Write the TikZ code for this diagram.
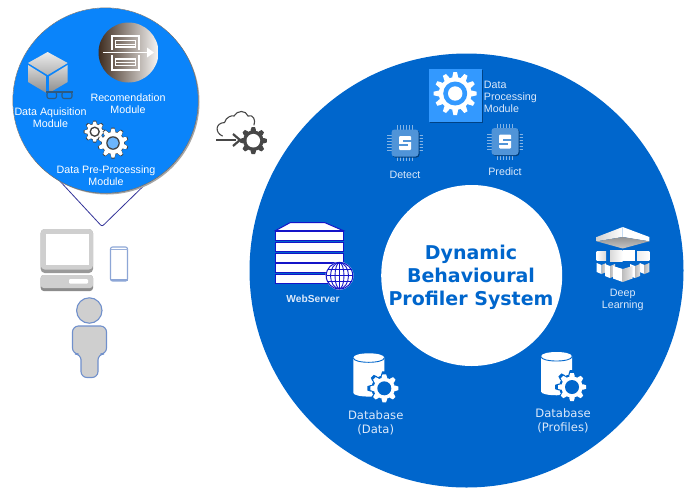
\documentclass[tikz,border=0pt]{standalone}
\usepackage{fontspec}
\setmainfont{Liberation Sans}
\newfontfamily\dbfont{DejaVu Sans}
\definecolor{mainblue}{HTML}{0066CC}
\definecolor{topblue}{HTML}{0A84FA}
\definecolor{sqblue}{HTML}{3399FF}
\definecolor{chipblue}{HTML}{5094D8}
\definecolor{lbl}{HTML}{DCE9FA}
\definecolor{navy}{HTML}{1414C8}
\definecolor{pgray}{HTML}{CFCFCF}
\definecolor{pblue}{HTML}{7090CC}
\definecolor{glassc}{HTML}{2E5A80}
\definecolor{browna}{HTML}{3F2D20}
\definecolor{brownb}{HTML}{A89A8C}
\tikzset{
  lab/.style={text=white,align=center,inner sep=0pt,font=\fontsize{10.7}{12}\selectfont},
  dblab/.style={text=lbl,align=center,inner sep=0pt,font=\dbfont\fontsize{11.6}{14}\selectfont},
  titlelab/.style={text=mainblue,align=center,inner sep=0pt,font=\dbfont\bfseries\fontsize{19}{22.8}\selectfont},
  slat/.style={draw=navy,fill=white,line width=1pt},
}
% x, y, R, teeth, colour, hole colour, hole radius
\newcommand\gearicon[7]{%
  \begin{scope}[shift={(#1,#2)}]
    \fill[#5] (0,0) circle[radius=0.76*#3];
    \foreach \a in {1,...,#4}{
      \fill[#5,rotate=\a*360/#4] (-1.7*#3/#4,0) -- (-1.55*#3/#4,0.8*#3) -- (-1.0*#3/#4,#3) -- (1.0*#3/#4,#3) -- (1.55*#3/#4,0.8*#3) -- (1.7*#3/#4,0) -- cycle;
    }
    \fill[#6] (0,0) circle[radius=#7];
  \end{scope}}
\newcommand\chipicon[2]{%
  \begin{scope}[shift={(#1,#2)}]
    \foreach \d in {-8,-5,-2,1,4,7}{
      \draw[chipblue!70!white,line width=.7pt] (\d+.5,-18) -- (\d+.5,18);
      \draw[chipblue!70!white,line width=.7pt] (-18,\d+.5) -- (18,\d+.5);
    }
    \fill[black!40!mainblue,rounded corners=3pt] (-12.5,-12.5) rectangle (14.5,14.5);
    \fill[chipblue,rounded corners=3pt] (-13.5,-13.5) rectangle (13.5,13.5);
    \fill[white,rounded corners=1pt] (-6,-7) rectangle (6,7);
    \fill[chipblue] (-2.5,-3) rectangle (6.5,-1);
    \fill[chipblue] (-6.5,1) rectangle (2.5,3);
  \end{scope}}
\newcommand\dbicon[2]{%
  \begin{scope}[shift={(#1,#2)}]
    \fill[white] (0,4.5) .. controls (0,-1.5) and (31,-1.5) .. (31,4.5) -- (31,39.5) .. controls (31,44.5) and (0,44.5) .. (0,39.5) -- cycle;
    \draw[mainblue,line width=.9pt] (0,4.5) .. controls (0,10.5) and (31,10.5) .. (31,4.5);
    \gearicon{31}{35}{17}{8}{mainblue}{mainblue}{1}
    \gearicon{31}{35}{14}{8}{white}{mainblue}{7}
  \end{scope}}
\begin{document}
\begin{tikzpicture}[x=1pt,y=-1pt]
\useasboundingbox (0,0) rectangle (690,491);
\fill[white] (0,0) rectangle (690,491);

% ---- main ring
\fill[mainblue] (466.5,270.5) circle[radius=217];
\fill[white] (471.7,275.5) circle[radius=90.5];

% ---- callout
\draw[draw=blue!50!black!80!white,line width=.8pt,rounded corners=2pt] (45,165) -- (102,226.5) -- (165,165);
\fill[gray!70] (107,102) circle[radius=92.5];
\fill[topblue] (105.5,100.5) circle[radius=92.5];
\draw[black!60,line width=.4pt] (105.5,100.5) circle[radius=92.7];

% cube
\shade[top color=white!85!gray,bottom color=gray!60] (47.6,52) -- (67.7,63) -- (47.6,75) -- (28,63) -- cycle;
\shade[top color=gray!30,bottom color=gray!90] (28,65) -- (46.5,76.5) -- (46.5,93) -- (28,82) -- cycle;
\shade[top color=gray!30,bottom color=gray!90] (67.7,65) -- (49,76.5) -- (49,93) -- (67.7,82) -- cycle;
% glasses
\draw[glassc,line width=1.1pt,rounded corners=2pt] (47,92) rectangle (56.5,98.5) (62,92) rectangle (72,98.5);
\draw[glassc,line width=1.1pt] (46,92) -- (73,92);
% recommendation disc
\shade[left color=browna,middle color=brownb,right color=white!92!brownb] (128.5,52.5) circle[radius=30];
\draw[white,line width=1.6pt] (112,50) -- (112,36) -- (139,36) -- (139,50);
\draw[white,line width=1.6pt] (112,55) -- (112,70) -- (139,70) -- (139,55);
\draw[white,line width=1.3pt] (115.5,40.5) rectangle (135.5,47);
\draw[white,line width=1.3pt] (115.5,59) rectangle (135.5,65.5);
\draw[white,line width=1pt] (115.5,44) -- (135.5,44) (115.5,62) -- (135.5,62);
\draw[white,line width=1.8pt] (103,52.5) -- (149,52.5);
\fill[white] (154,52.5) -- (147,47.5) -- (147,57.5) -- cycle;
% gears
\gearicon{94.7}{131.7}{11}{8}{black!75}{black!75}{1}
\gearicon{94.7}{131.7}{10}{8}{white}{black!75}{5.2}
\fill[white] (94.7,131.7) circle[radius=3.6];
\gearicon{113}{143}{15.5}{10}{black!75}{black!75}{1}
\gearicon{113}{143}{14.5}{10}{white}{black!75}{6.8}
\fill[topblue!60!white] (113,143) circle[radius=5.6];
\node[lab] (aquis) at (50.5,118) {Data Aquisition\\Module};
\node[lab] (recom) at (128,103.5) {Recomendation\\Module};
\node[lab] (prep) at (106,176) {Data Pre-Processing\\Module};

% ---- computer
\fill[black!40,rounded corners=4pt] (40.7,229) rectangle (93,273);
\fill[pgray,rounded corners=4pt] (40.7,229) rectangle (93,269.5);
\fill[white] (45.7,234) rectangle (89,264.5);
\fill[black!45,rounded corners=3pt] (40.7,275) rectangle (93,291);
\fill[pgray,rounded corners=3pt] (40.7,275) rectangle (93,288);
\fill[white,rounded corners=1pt] (69,279) rectangle (88,283.5);
% phone
\draw[draw=pblue!80!white,fill=white,line width=1.1pt,rounded corners=2pt] (110.5,247) rectangle (127.5,281);
\fill[pblue!80!white] (110.5,278.5) rectangle (127.5,281);
\draw[pblue!70!white,line width=.6pt] (110.5,249.5) -- (127.5,249.5);
% person
\draw[draw=pblue,fill=pgray,line width=1.1pt] (89.3,310.5) circle[radius=12.7];
\draw[draw=pblue,fill=pgray,line width=1.1pt,rounded corners=6pt] (81,365) -- (81,354) -- (72.5,354) -- (72.5,326) -- (106.5,326) -- (106.5,354) -- (98,354) -- (98,377.5) -- (81,377.5) -- cycle;

% ---- cloud + arrow + gear
\draw[black!72,line width=1.1pt,line cap=round] (222.5,136)
  .. controls (215,133) and (215,123) .. (224.5,122.5)
  .. controls (226,117) and (232,115) .. (234,116)
  .. controls (237,110) and (246,110) .. (248,116)
  .. controls (253,114) and (256,120) .. (254,125);
\draw[black!72,line width=2.4pt] (216,140) -- (236,140);
\draw[black!72,line width=2.2pt] (233,134) -- (240,140) -- (233,146);
\gearicon{253.3}{140.7}{13.5}{8}{black!72}{white}{6.8}

% ---- data processing
\fill[black!35!mainblue] (430,70) rectangle (483,123);
\fill[sqblue] (429,69) rectangle (481.7,121.7);
\gearicon{455.2}{93.5}{21.5}{12}{white}{sqblue}{12}
\fill[white] (455.2,93.5) circle[radius=7.2];
\node[lab,text=lbl,align=left,anchor=west] (dpm) at (483.7,97) {Data\\Processing\\Module};

% ---- chips
\chipicon{405}{143}
\chipicon{505}{141.5}
\node[lab,text=lbl] (detect) at (405,175) {Detect};
\node[lab,text=lbl] (predict) at (505,171.5) {Predict};

% ---- web server
\draw[slat] (275.7,230.5) -- (290,222.7) -- (325,222.7) -- (343,230.5) -- cycle;
\draw[slat] (275.7,231.7) rectangle (343.5,240.5);
\draw[slat] (275.7,242) rectangle (343.5,251);
\draw[slat] (275.7,253) rectangle (343.5,262);
\draw[slat] (275.7,263.5) rectangle (343.5,272.5);
\draw[slat] (275.7,274) rectangle (343.5,283);
\begin{scope}[shift={(339.5,275.7)}]
  \fill[white] (0,0) circle[radius=14];
  \draw[navy,line width=1pt] (0,0) circle[radius=13.3];
  \draw[navy,line width=.9pt] (-12,-6) -- (12,-6) (-13,0) -- (13,0) (-12,6) -- (12,6) (0,-13) -- (0,13);
  \draw[navy,line width=.9pt] (0,0) ellipse[x radius=4.5,y radius=13];
  \draw[navy,line width=.9pt] (0,0) ellipse[x radius=9,y radius=13];
\end{scope}
\node[lab,text=lbl,font=\bfseries\fontsize{10.2}{12}\selectfont] (web) at (313,299) {WebServer};

% ---- deep learning
\shade[left color=gray!35,right color=white] (596.7,237) -- (622.7,227) -- (622.7,237) -- (596.7,241.3) -- cycle;
\fill[white] (622.7,227) -- (649.3,237) -- (649.3,241.3) -- (622.7,237) -- cycle;
\shade[top color=gray!85,bottom color=gray!45] (596.7,241.3) -- (622.7,237) -- (649.3,241.3) -- (622.7,248.5) -- cycle;
\foreach \xa/\xb in {596.7/606,609.5/622.5,623/635,637/649.3}{
  \fill[white] (\xa,251) rectangle (\xb,260);
}
\shade[left color=gray!30,right color=white] (610,250) rectangle (622.5,261);
\fill[white] (623,250) rectangle (635,261);
\shade[left color=white,right color=gray!30] (596.7,251) rectangle (606,260);
\shade[left color=gray!15,right color=white] (637,251) rectangle (649.3,260);
\foreach \cx/\cw/\cy/\ch in {601.5/4.8/263/9,644.5/4.8/263/9,610/5/264/12,635/5/264/12}{
  \fill[white] (\cx-\cw,\cy) -- (\cx,\cy+2) -- (\cx,\cy+\ch+2) -- (\cx-\cw,\cy+\ch) -- cycle;
  \shade[left color=gray!55,right color=gray!20] (\cx+\cw,\cy) -- (\cx,\cy+2) -- (\cx,\cy+\ch+2) -- (\cx+\cw,\cy+\ch) -- cycle;
}
\fill[white] (613,266) -- (622.7,269) -- (622.7,282) -- (613,278.5) -- cycle;
\shade[left color=gray!50,right color=gray!15] (632.5,266) -- (622.7,269) -- (622.7,282) -- (632.5,278.5) -- cycle;
\node[lab,text=lbl] (deep) at (622.7,300) {Deep\\Learning};

% ---- databases
\dbicon{353.3}{353.3}
\node[dblab] (dbd) at (375.7,422.5) {Database\\(Data)};
\dbicon{541}{352}
\node[dblab] (dbp) at (563,420.5) {Database\\(Profiles)};

% ---- title
\node[titlelab] (title) at (471,277.5) {Dynamic\\Behavioural\\Profiler System};
\end{tikzpicture}
\end{document}
